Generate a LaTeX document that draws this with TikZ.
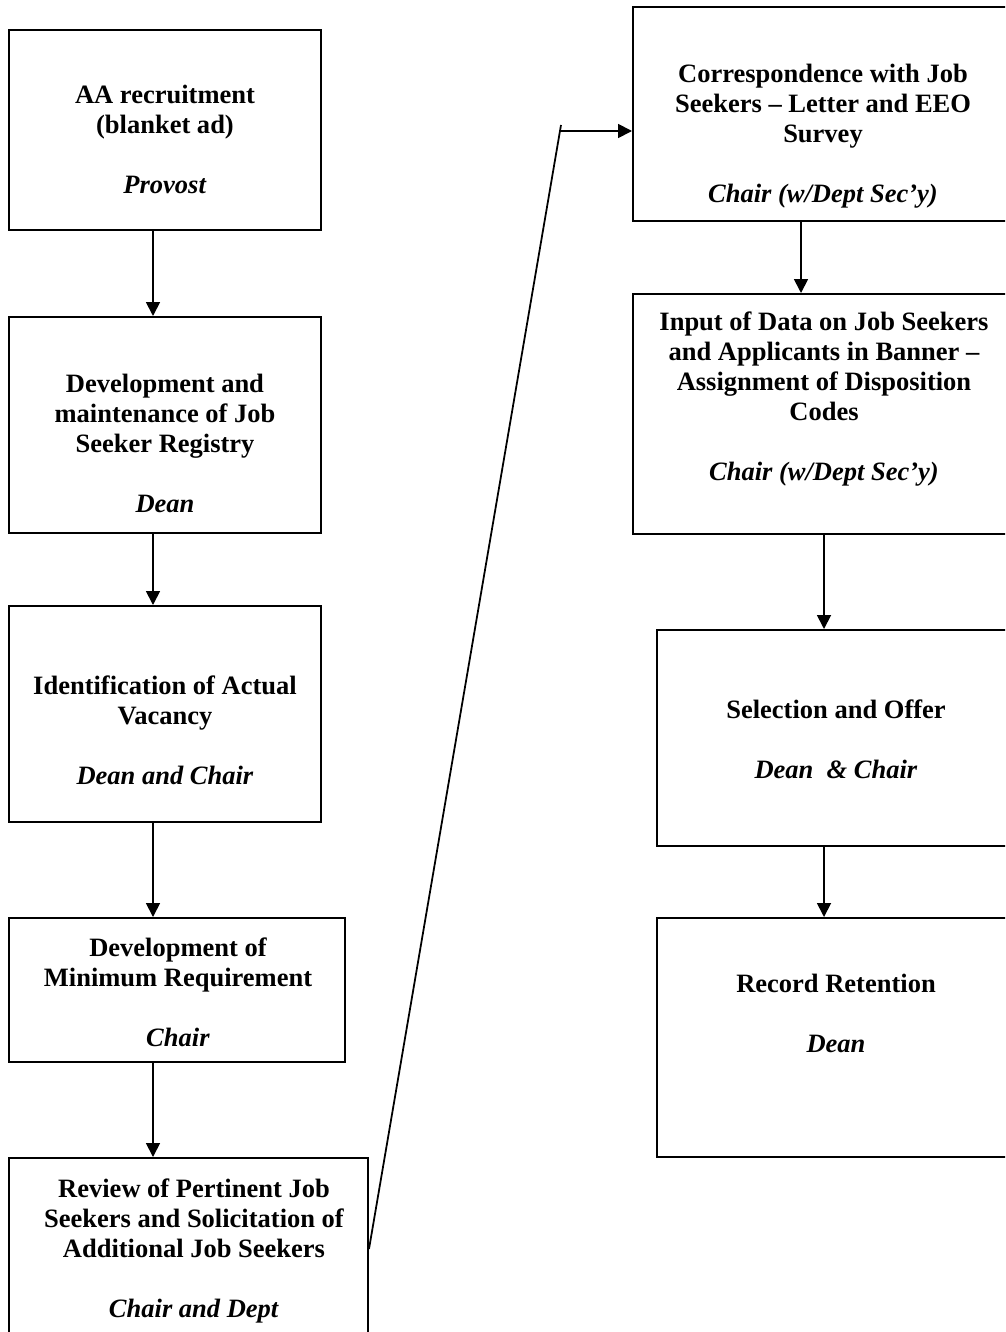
\documentclass[tikz,border=0pt]{standalone}
\usepackage{fontspec}
\setmainfont{Liberation Serif}
\usetikzlibrary{arrows.meta,fit}
\newcommand\gapline{\\[13.6pt]}
\begin{document}
\begin{tikzpicture}[x=0.4528pt,y=-0.4528pt,
  box/.style={draw,line width=0.9pt,inner sep=0pt,rectangle},
  txt/.style={anchor=north,align=center,inner sep=0pt,
    font=\fontsize{12}{13.6}\selectfont\bfseries},
  arr/.style={line width=0.8pt,-{Triangle[length=6.3pt,width=6.3pt]}},
  conn/.style={line width=0.8pt}]
\clip (0,0) rectangle (1005,1332);
\fill[white] (0,0) rectangle (1005,1332);
% boxes
\node[box,fit={(9,30) (321,230)}] (b1) {};
\node[box,fit={(9,317) (321,533)}] (b2) {};
\node[box,fit={(9,606) (321,822)}] (b3) {};
\node[box,fit={(9,918) (345,1062)}] (b4) {};
\node[box,fit={(9,1158) (368,1340)}] (b5) {};
\node[box,fit={(633,7) (1015,221)}] (b6) {};
\node[box,fit={(633,294) (1015,534)}] (b7) {};
\node[box,fit={(657,630) (1015,846)}] (b8) {};
\node[box,fit={(657,918) (1015,1157)}] (b9) {};
% texts
\node[txt] (t1) at (165,82) {\strut AA recruitment\\(blanket ad)\gapline\textit{Provost}};
\node[txt] (t2) at (165,371) {\strut Development and\\maintenance of Job\\Seeker Registry\gapline\textit{Dean}};
\node[txt] (t3) at (165,673) {\strut Identification of Actual\\Vacancy\gapline\textit{Dean and Chair}};
\node[txt] (t4) at (178,935) {\strut Development of\\Minimum Requirement\gapline\textit{Chair}};
\node[txt] (t5) at (194,1176) {\strut Review of Pertinent Job\\Seekers and Solicitation of\\Additional Job Seekers\gapline\textit{Chair and Dept}};
\node[txt] (t6) at (823,61) {\strut Correspondence with Job\\Seekers – Letter and EEO\\Survey\gapline\textit{Chair (w/Dept Sec’y)}};
\node[txt] (t7) at (824,309) {\strut Input of Data on Job Seekers\\and Applicants in Banner –\\Assignment of Disposition\\Codes\gapline\textit{Chair (w/Dept Sec’y)}};
\node[txt] (t8) at (836,697) {\strut Selection and Offer\gapline\textit{Dean\ \ \& Chair}};
\node[txt] (t9) at (836,971) {\strut Record Retention\gapline\textit{Dean}};
% connector helpers
\coordinate (xL) at (153,0);
\coordinate (xR1) at (801,0);
\coordinate (xR2) at (824,0);
\coordinate (k1) at (561,125);
\coordinate (k2) at (561,131);
% arrows
\draw[arr] (b1.south -| xL) -- (b2.north -| xL);
\draw[arr] (b2.south -| xL) -- (b3.north -| xL);
\draw[arr] (b3.south -| xL) -- (b4.north -| xL);
\draw[arr] (b4.south -| xL) -- (b5.north -| xL);
\draw[conn] (b5.east) -- (k1);
\draw[arr] (k2) -- (b6.west |- k2);
\draw[arr] (b6.south -| xR1) -- (b7.north -| xR1);
\draw[arr] (b7.south -| xR2) -- (b8.north -| xR2);
\draw[arr] (b8.south -| xR2) -- (b9.north -| xR2);
\end{tikzpicture}
\end{document}
